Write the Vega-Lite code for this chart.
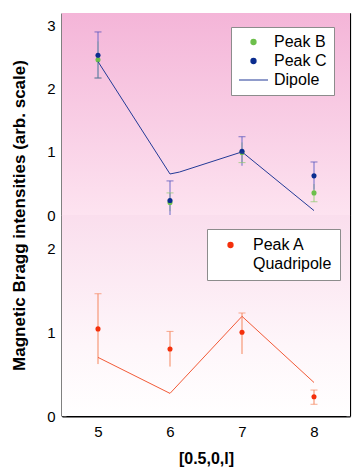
{
  "$schema": "https://vega.github.io/schema/vega-lite/v6.json",
  "padding": {"left": 10, "top": 12, "right": 5, "bottom": 4},
  "spacing": 0,
  "bounds": "flush",
  "config": {
    "font": "Liberation Sans",
    "view": {"stroke": null},
    "axis": {"labelFont": "Liberation Sans", "labelFontSize": 15, "labelColor": "black", "domainColor": "black", "tickColor": "#444", "tickSize": -4, "grid": false, "zindex": 1, "titleFont": "Liberation Sans", "titleFontSize": 16, "titleFontWeight": "bold", "titleColor": "black"},
    "legend": {"labelFont": "Liberation Sans", "labelFontSize": 16, "labelColor": "black", "symbolStrokeWidth": 1.2}
  },
  "resolve": {"scale": {"x": "independent", "y": "independent", "color": "independent", "fill": "independent", "stroke": "independent", "shape": "independent", "size": "independent"}, "legend": {"color": "independent", "shape": "independent", "size": "independent", "stroke": "independent"}},
  "datasets": {
    "top": [
      {"l": 5, "s": "Peak B", "v": 2.46, "lo": 2.17, "hi": 2.75, "lc": 2.17},
      {"l": 6, "s": "Peak B", "v": 0.20, "lo": 0.06, "hi": 0.35, "hc": 0.35},
      {"l": 7, "s": "Peak B", "v": 0.99, "lo": 0.83, "hi": 1.15, "lc": 0.83},
      {"l": 8, "s": "Peak B", "v": 0.35, "lo": 0.21, "hi": 0.49, "lc": 0.21},
      {"l": 5, "s": "Peak C", "v": 2.53, "lo": 2.17, "hi": 2.9, "hc": 2.9, "lc": 2.17},
      {"l": 6, "s": "Peak C", "v": 0.23, "lo": -0.08, "hi": 0.54, "hc": 0.54},
      {"l": 7, "s": "Peak C", "v": 1.01, "lo": 0.78, "hi": 1.24, "hc": 1.24},
      {"l": 8, "s": "Peak C", "v": 0.62, "lo": 0.40, "hi": 0.84, "hc": 0.84}
    ],
    "dipole": [
      {"l": 5, "v": 2.43, "s": "Dipole"},
      {"l": 6, "v": 0.65, "s": "Dipole"},
      {"l": 6.13, "v": 0.68, "s": "Dipole"},
      {"l": 7, "v": 1.0, "s": "Dipole"},
      {"l": 8, "v": 0.07, "s": "Dipole"}
    ],
    "bottom": [
      {"l": 5, "s": "Peak A", "v": 1.04, "lo": 0.62, "hi": 1.46, "hc": 1.46},
      {"l": 6, "s": "Peak A", "v": 0.80, "lo": 0.59, "hi": 1.01, "hc": 1.01},
      {"l": 7, "s": "Peak A", "v": 1.00, "lo": 0.74, "hi": 1.23, "hc": 1.23},
      {"l": 8, "s": "Peak A", "v": 0.23, "lo": 0.14, "hi": 0.31, "hc": 0.31, "lc": 0.14}
    ],
    "quad": [
      {"l": 5, "v": 0.70, "s": "Quadripole"},
      {"l": 6, "v": 0.27, "s": "Quadripole"},
      {"l": 7, "v": 1.19, "s": "Quadripole"},
      {"l": 8, "v": 0.40, "s": "Quadripole"}
    ]
  },
  "vconcat": [
    {
      "width": 288,
      "height": 202,
      "resolve": {"axis": {"x": "independent", "y": "independent"}},
      "layer": [
        {
          "data": {"values": [{}]},
          "mark": {"type": "rect", "fill": {"gradient": "linear", "x1": 0, "y1": 0, "x2": 0, "y2": 1, "stops": [{"offset": 0, "color": "#f4b5d8"}, {"offset": 1, "color": "#fde3f0"}]}},
          "encoding": {"x": {"value": 0}, "x2": {"value": "width"}, "y": {"value": 0}, "y2": {"value": "height"}}
        },
        {
          "data": {"name": "top"},
          "transform": [{"filter": "datum.s === 'Peak B'"}],
          "mark": {"type": "rule", "strokeWidth": 1, "clip": true, "color": "#9bd27c"},
          "encoding": {
            "x": {"field": "l", "type": "quantitative", "scale": {"domain": [4.5, 8.5], "nice": false, "zero": false}, "axis": {"orient": "top", "labels": false, "title": null, "values": [5, 6, 7, 8], "domainWidth": 1.2}},
            "y": {"field": "lo", "type": "quantitative", "scale": {"domain": [0, 3.2], "nice": false}, "axis": {"orient": "right", "labels": false, "title": null, "values": [0, 0.5, 1, 1.5, 2, 2.5, 3], "domainWidth": 1.2}},
            "y2": {"field": "hi"}
          }
        },
        {
          "data": {"name": "top"},
          "transform": [{"filter": "datum.s === 'Peak C'"}],
          "mark": {"type": "rule", "strokeWidth": 1, "clip": true, "color": "#6d6ac9"},
          "encoding": {
            "x": {"field": "l", "type": "quantitative", "axis": null},
            "y": {"field": "lo", "type": "quantitative", "axis": null},
            "y2": {"field": "hi"}
          }
        },
        {
          "data": {"name": "top"},
          "mark": {"type": "tick", "orient": "horizontal", "size": 7, "thickness": 1},
          "encoding": {
            "x": {"field": "l", "type": "quantitative", "axis": null},
            "y": {"field": "hc", "type": "quantitative", "axis": null},
            "fill": {"field": "s", "type": "nominal", "scale": {"domain": ["Peak B", "Peak C"], "range": ["#8cc96c", "#4a4ab8"]}, "legend": null}
          }
        },
        {
          "data": {"name": "top"},
          "mark": {"type": "tick", "orient": "horizontal", "size": 7, "thickness": 1},
          "encoding": {
            "x": {"field": "l", "type": "quantitative", "axis": null},
            "y": {"field": "lc", "type": "quantitative", "axis": null},
            "fill": {"field": "s", "type": "nominal", "legend": null}
          }
        },
        {
          "data": {"name": "top"},
          "mark": {"type": "point", "filled": true, "opacity": 1},
          "encoding": {
            "x": {"field": "l", "type": "quantitative", "axis": {"orient": "bottom", "labels": false, "title": null, "values": [5, 6, 7, 8], "domainWidth": 1}},
            "y": {"field": "v", "type": "quantitative", "axis": {"orient": "left", "values": [0, 0.5, 1, 1.5, 2, 2.5, 3], "labelExpr": "datum.value % 1 === 0 ? format(datum.value, 'd') : ''", "labelPadding": 11, "title": "Magnetic Bragg intensities (arb. scale)", "titleFontSize": 17, "titleX": -34, "titleY": 202, "titleBaseline": "bottom", "domainWidth": 2}},
            "color": {
              "field": "s", "type": "nominal",
              "scale": {"domain": ["Peak B", "Peak C", "Dipole"], "range": ["#6dbf4c", "#0b2d8f", "#233a97"]},
              "legend": {"orient": "none", "legendX": 169, "legendY": 14, "title": null, "padding": 7, "fillColor": "white", "strokeColor": "#8c8c8c", "labelOffset": 5, "rowPadding": 3, "clipHeight": 16}
            },
            "shape": {
              "field": "s", "type": "nominal",
              "scale": {"domain": ["Peak B", "Peak C", "Dipole"], "range": ["circle", "circle", "stroke"]},
              "legend": {"orient": "none", "legendX": 169, "legendY": 14, "title": null, "padding": 7, "fillColor": "white", "strokeColor": "#8c8c8c", "labelOffset": 5, "rowPadding": 3, "clipHeight": 16}
            },
            "size": {
              "field": "s", "type": "nominal",
              "scale": {"type": "ordinal", "domain": ["Peak B", "Peak C", "Dipole"], "range": [26, 26, 841]},
              "legend": {"orient": "none", "legendX": 169, "legendY": 14, "title": null, "padding": 7, "fillColor": "white", "strokeColor": "#8c8c8c", "labelOffset": 5, "rowPadding": 3, "clipHeight": 16}
            },
            "stroke": {
              "field": "s", "type": "nominal",
              "scale": {"domain": ["Peak B", "Peak C", "Dipole"], "range": ["transparent", "transparent", "#233a97"]},
              "legend": {"orient": "none", "legendX": 169, "legendY": 14, "title": null, "padding": 7, "fillColor": "white", "strokeColor": "#8c8c8c", "labelOffset": 5, "rowPadding": 3, "clipHeight": 16}
            }
          }
        },
        {
          "data": {"name": "dipole"},
          "mark": {"type": "line", "strokeWidth": 1},
          "encoding": {
            "x": {"field": "l", "type": "quantitative", "axis": null},
            "y": {"field": "v", "type": "quantitative", "axis": null},
            "color": {"field": "s", "type": "nominal"}
          }
        }
      ]
    },
    {
      "width": 288,
      "height": 201,
      "resolve": {"axis": {"x": "independent", "y": "independent"}},
      "layer": [
        {
          "data": {"values": [{}]},
          "mark": {"type": "rect", "fill": {"gradient": "linear", "x1": 0, "y1": 0, "x2": 0, "y2": 1, "stops": [{"offset": 0, "color": "#fadeed"}, {"offset": 0.65, "color": "#fef6fa"}, {"offset": 1, "color": "#ffffff"}]}},
          "encoding": {"x": {"value": 0}, "x2": {"value": "width"}, "y": {"value": 0}, "y2": {"value": "height"}}
        },
        {
          "data": {"name": "bottom"},
          "mark": {"type": "rule", "strokeWidth": 1, "clip": true, "color": "#f5875f"},
          "encoding": {
            "x": {"field": "l", "type": "quantitative", "scale": {"domain": [4.5, 8.5], "nice": false, "zero": false}, "axis": {"orient": "top", "labels": false, "title": null, "values": [5, 6, 7, 8], "domainWidth": 1}},
            "y": {"field": "lo", "type": "quantitative", "scale": {"domain": [0, 2.4], "nice": false}, "axis": {"orient": "right", "labels": false, "title": null, "values": [0, 0.5, 1, 1.5, 2], "domainWidth": 1.2}},
            "y2": {"field": "hi"}
          }
        },
        {
          "data": {"name": "bottom"},
          "mark": {"type": "tick", "orient": "horizontal", "size": 7, "thickness": 1, "color": "#f5875f"},
          "encoding": {
            "x": {"field": "l", "type": "quantitative", "axis": null},
            "y": {"field": "hc", "type": "quantitative", "axis": null}
          }
        },
        {
          "data": {"name": "bottom"},
          "mark": {"type": "tick", "orient": "horizontal", "size": 7, "thickness": 1, "color": "#f5875f"},
          "encoding": {
            "x": {"field": "l", "type": "quantitative", "axis": null},
            "y": {"field": "lc", "type": "quantitative", "axis": null}
          }
        },
        {
          "data": {"name": "quad"},
          "mark": {"type": "line", "strokeWidth": 1},
          "encoding": {
            "x": {"field": "l", "type": "quantitative", "axis": null},
            "y": {"field": "v", "type": "quantitative", "axis": null},
            "color": {"field": "s", "type": "nominal"}
          }
        },
        {
          "data": {"name": "bottom"},
          "mark": {"type": "point", "filled": true, "opacity": 1},
          "encoding": {
            "x": {"field": "l", "type": "quantitative", "axis": {"orient": "bottom", "values": [5, 6, 7, 8], "labelPadding": 12, "title": "[0.5,0,l]", "titlePadding": 11, "domainWidth": 2}},
            "y": {"field": "v", "type": "quantitative", "axis": {"orient": "left", "values": [0, 0.5, 1, 1.5, 2], "labelExpr": "datum.value % 1 === 0 ? format(datum.value, 'd') : ''", "labelPadding": 11, "title": null, "domainWidth": 2}},
            "color": {
              "field": "s", "type": "nominal",
              "scale": {"domain": ["Peak A", "Quadripole"], "range": ["#f4300c", "#f25a37"]},
              "legend": {"orient": "none", "legendX": 145, "legendY": 14, "title": null, "padding": 8, "fillColor": "white", "strokeColor": "#8c8c8c", "labelOffset": 7, "rowPadding": 3, "clipHeight": 16}
            },
            "shape": {
              "field": "s", "type": "nominal",
              "scale": {"domain": ["Peak A", "Quadripole"], "range": ["circle", "M0,0"]},
              "legend": {"orient": "none", "legendX": 145, "legendY": 14, "title": null, "padding": 8, "fillColor": "white", "strokeColor": "#8c8c8c", "labelOffset": 7, "rowPadding": 3, "clipHeight": 16}
            },
            "size": {
              "field": "s", "type": "nominal",
              "scale": {"type": "ordinal", "domain": ["Peak A", "Quadripole"], "range": [26, 841]},
              "legend": {"orient": "none", "legendX": 145, "legendY": 14, "title": null, "padding": 8, "fillColor": "white", "strokeColor": "#8c8c8c", "labelOffset": 7, "rowPadding": 3, "clipHeight": 16}
            },
            "stroke": {
              "field": "s", "type": "nominal",
              "scale": {"domain": ["Peak A", "Quadripole"], "range": ["transparent", "transparent"]},
              "legend": {"orient": "none", "legendX": 145, "legendY": 14, "title": null, "padding": 8, "fillColor": "white", "strokeColor": "#8c8c8c", "labelOffset": 7, "rowPadding": 3, "clipHeight": 16}
            }
          }
        }
      ]
    }
  ]
}
